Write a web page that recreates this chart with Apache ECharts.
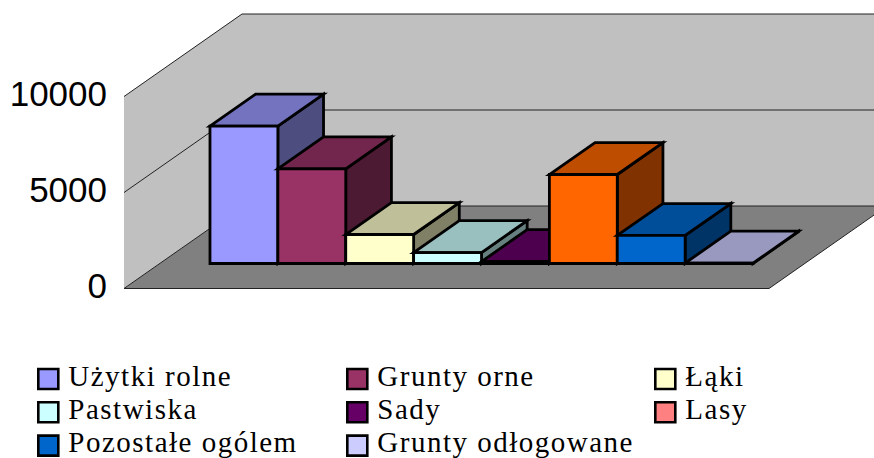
<!DOCTYPE html>
<html><head><meta charset="utf-8">
<style>html,body{margin:0;padding:0;background:#fff}#c{width:874px;height:458px}
text[style*="Liberation Serif"]{letter-spacing:1.5px}</style>
<script src="https://cdn.jsdelivr.net/npm/echarts@6/dist/echarts.min.js"></script></head>
<body><div id="c"></div><script>
const seriesNames=['Użytki rolne','Grunty orne','Łąki','Pastwiska','Sady','Lasy','Pozostałe ogólem','Grunty odłogowane'];
const seriesValues=[7160,4930,1510,570,100,4635,1460,20];
const barColors=['#9999FF','#993366','#FFFFCC','#CCFFFF','#660066','#FF6600','#0066CC','#CCCCFF'];
const legendColors=['#9999FF','#993366','#FFFFCC','#CCFFFF','#660066','#FF8080','#0066CC','#CCCCFF'];
const yTicks=[0,5000,10000];
const legendColumns=[[0,3,6],[1,4,7],[2,5]];
const legendLefts=[37,346,654];
const XMIN=-0.74,XMAX=8.762,YMAX=10000;
const DX=118,DY=82.5;
const BAR_D0=0.303,BAR_D1=0.69;
function pt(api,x,v,d){const c=api.coord([x,v]);return [c[0]+DX*d,c[1]-DY*d];}
function shade(hex,k){const n=parseInt(hex.slice(1),16);
  const f=s=>Math.round(((n>>s)&255)*k);return `rgb(${f(16)},${f(8)},${f(0)})`;}
function poly(points,fill,lw){return {type:'polygon',shape:{points},
  style:{fill,stroke:'#000',lineWidth:lw,lineJoin:'miter',miterLimit:4}};}
function line(a,b,col){return {type:'line',shape:{x1:a[0],y1:a[1],x2:b[0],y2:b[1]},
  style:{stroke:col||'#000',lineWidth:1}};}
function renderWalls(p,api){
  const P=(x,v,d)=>pt(api,x,v,d);const ch=[];
  ch.push({type:'polygon',shape:{points:[P(XMIN,0,0),P(XMIN,0,1),P(XMIN,YMAX,1),P(XMIN,YMAX,0)]},style:{fill:'#C0C0C0'}});
  ch.push({type:'polygon',shape:{points:[P(XMIN,0,1),P(XMAX,0,1),P(XMAX,YMAX,1),P(XMIN,YMAX,1)]},style:{fill:'#C0C0C0'}});
  ch.push({type:'polygon',shape:{points:[P(XMIN,0,0),P(XMAX,0,0),P(XMAX,0,1),P(XMIN,0,1)]},style:{fill:'#808080'}});
  yTicks.forEach(t=>{ch.push(line(P(XMIN,t,0),P(XMIN,t,1),'#222'));ch.push(line(P(XMIN,t,1),P(XMAX,t,1),'#222'));});
  ch.push(line(P(XMIN,0,0),P(XMAX,0,0),'#222'));
  ch.push(line(P(XMAX,0,0),P(XMAX,0,1),'#222'));
  return {type:'group',children:ch};
}
function renderBar(p,api){
  const i=api.value(0),v=api.value(1),c=barColors[i];
  const P=(x,y,d)=>pt(api,x,y,d),lw=2.8;
  return {type:'group',children:[
    poly([P(i+1,0,BAR_D0),P(i+1,0,BAR_D1),P(i+1,v,BAR_D1),P(i+1,v,BAR_D0)],shade(c,0.5),lw),
    poly([P(i,v,BAR_D0),P(i+1,v,BAR_D0),P(i+1,v,BAR_D1),P(i,v,BAR_D1)],shade(c,0.75),lw),
    poly([P(i,0,BAR_D0),P(i+1,0,BAR_D0),P(i+1,v,BAR_D0),P(i,v,BAR_D0)],c,lw)
  ]};
}
const series=[{type:'custom',name:'walls',silent:true,clip:false,renderItem:renderWalls,data:[[0,0]],encode:{x:0,y:1},z:1}];
seriesNames.forEach((n,i)=>series.push({type:'custom',name:n,silent:true,clip:false,renderItem:renderBar,
  data:[[i,seriesValues[i]]],encode:{x:0,y:1},itemStyle:{color:legendColors[i]},z:2+i}));
const legend=legendColumns.map((col,k)=>({
  show:true,orient:'vertical',left:legendLefts[k],top:361,height:120,itemWidth:20,itemHeight:20,itemGap:4,
  selectedMode:false,icon:'rect',padding:0,
  data:col.map(i=>({name:seriesNames[i],icon:'rect',
    itemStyle:{color:legendColors[i],borderColor:'#000',borderWidth:2.6,opacity:1}})),
  formatter:n=>`{a|${n}}`,
  textStyle:{color:'#000',rich:{a:{fontFamily:'Liberation Serif',fontSize:29,color:'#000',padding:[0,0,7,5]}}}
}));
const chart=echarts.init(document.getElementById('c'),null,{renderer:'svg'});
chart.setOption({animation:false,backgroundColor:'#fff',
  grid:{left:124,top:96.5,width:645,height:192,containLabel:false},
  xAxis:{type:'value',min:XMIN,max:XMAX,show:false},
  yAxis:{type:'value',min:0,max:YMAX,interval:5000,
    axisLine:{show:true,lineStyle:{color:'#444',width:1}},
    axisTick:{show:true,length:9,lineStyle:{color:'#444',width:1}},
    splitLine:{show:false},
    axisLabel:{margin:17,color:'#000',
      formatter:v=>`{a|${v}}`,
      rich:{a:{fontFamily:'Liberation Sans',fontSize:35,color:'#000',padding:[0,0,7,0]}}}},
  legend,series});
</script></body></html>
